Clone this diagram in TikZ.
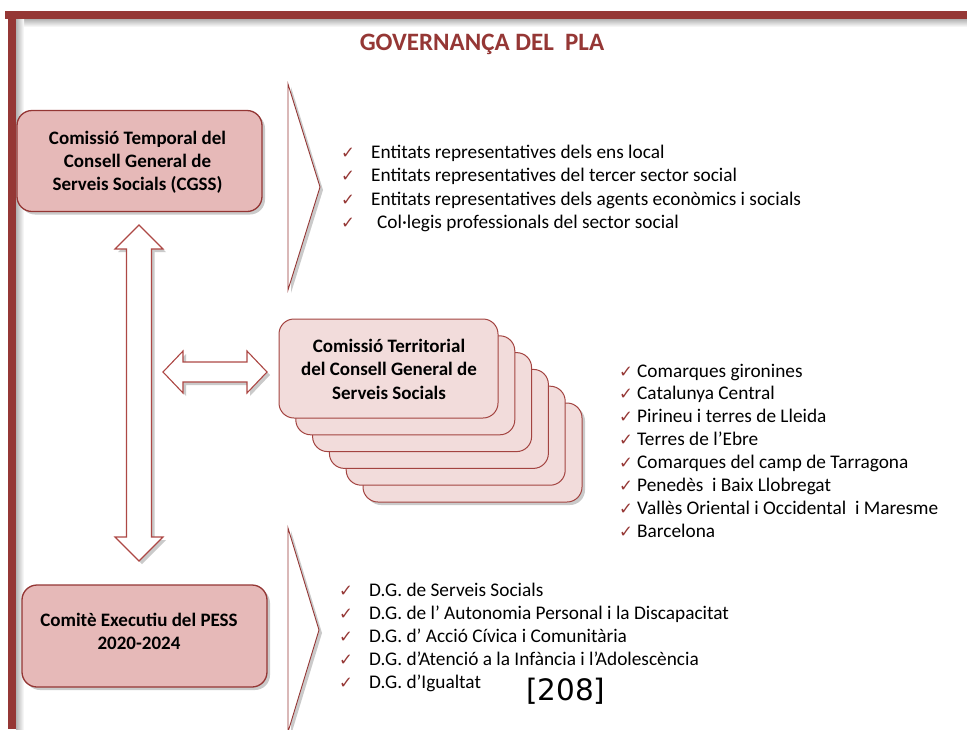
\documentclass[tikz,border=0pt]{standalone}
\usepackage{fontspec}
\setmainfont{Carlito}
\newfontfamily\djv{DejaVu Sans}
\usetikzlibrary{shadows}
\definecolor{framec}{HTML}{953735}
\definecolor{boxA}{HTML}{E6B9B8}
\definecolor{boxB}{HTML}{F2DCDB}
\definecolor{edgeA}{HTML}{943634}
\definecolor{edgeB}{HTML}{C0504D}
\tikzset{
  shad/.style={drop shadow={shadow xshift=3pt,shadow yshift=-3pt,opacity=0.35,fill=black!60}},
  boxa/.style={draw=edgeA,line width=1.3pt,fill=boxA,rounded corners=15pt,shad,inner sep=0pt},
  boxb/.style={draw=edgeB!85!black,line width=1pt,fill=boxB,rounded corners=15pt,inner sep=0pt},
  boxtext/.style={font=\bfseries\fontsize{19}{23}\selectfont,align=center,inner sep=0pt},
  chev/.style={draw=framec,line width=0.9pt,fill=white,shad},
  dblarrow/.style={draw=edgeB!90!black,line width=1.1pt,fill=white,shad},
  item/.style={font=\fontsize{19.3}{23}\selectfont,anchor=base west,inner sep=0pt},
  chk/.style={font=\djv\fontsize{16.5}{18}\selectfont,text=framec,anchor=base west,inner sep=0pt},
}
\begin{document}
\begin{tikzpicture}[x=1pt,y=-1pt]
\useasboundingbox (0,0) rectangle (967,729);
% frame
\shade[top color=black!30,bottom color=white] (16,19) rectangle (967,27);
\shade[left color=black!30,right color=white] (16,19) rectangle (24,729);
\fill[framec] (5,11) rectangle (967,19);
\fill[framec] (8,11) rectangle (16,729);
% title
\node[font=\bfseries\fontsize{25}{30}\selectfont,text=framec] (title) at (482,44) {GOVERNANÇA DEL\ \ PLA};
% chevrons
\coordinate (ch1a) at (288,84); \coordinate (ch1b) at (320,187); \coordinate (ch1c) at (288,290);
\draw[chev] (ch1a) -- (ch1b) -- (ch1c) -- cycle;
\coordinate (ch2a) at (288,528); \coordinate (ch2b) at (319,630); \coordinate (ch2c) at (288,732);
\draw[chev] (ch2a) -- (ch2b) -- (ch2c) -- cycle;
% box 1
\node[boxa,minimum width=245pt,minimum height=101pt] (cgss) at (139.5,161) {};
\node[boxtext] (cgsst) at (137.5,162) {Comissió Temporal del\\Consell General de\\Serveis Socials (CGSS)};
% box 3
\node[boxa,minimum width=245pt,minimum height=102pt] (pess) at (144.5,636) {};
\node[boxtext] (pesst) at (139,631) {Comitè Executiu del PESS\\2020-2024};
% vertical double arrow
\coordinate (vt) at (139,225); \coordinate (vb) at (139,561);
\draw[dblarrow] (vt) -- ++(24,24) -- ++(-11.5,0) -- ++(0,288) -- ++(11.5,0) -- (vb)
  -- ++(-24,-24) -- ++(11.5,0) -- ++(0,-288) -- ++(-11.5,0) -- cycle;
% horizontal double arrow
\coordinate (hl) at (163,372); \coordinate (hr) at (267,372);
\draw[dblarrow] (hl) -- ++(20,-21) -- ++(0,11) -- ++(64,0) -- ++(0,-11) -- (hr)
  -- ++(-20,21) -- ++(0,-11) -- ++(-64,0) -- ++(0,11) -- cycle;
% stacked boxes
\node[boxb,shad,minimum width=219pt,minimum height=99pt] (st5) at (472.5,452.5) {};
\foreach \k in {4,3,2,1,0}{
  \node[boxb,minimum width=219pt,minimum height=99pt] (st\k) at ({388.5+16.8*\k},{368.5+16.8*\k}) {};
}
\node[boxtext,font=\bfseries\fontsize{19}{23.5}\selectfont] (stt) at (389,369) {Comissió Territorial\\del Consell General de\\Serveis Socials};
% list 1
\node[chk] (k11) at (341,158) {✓}; \node[item] (e11) at (371,158) {Entitats representatives dels ens local};
\node[chk] (k12) at (341,181.5) {✓}; \node[item] (e12) at (371,181.5) {Entitats representatives del tercer sector social};
\node[chk] (k13) at (341,205) {✓}; \node[item] (e13) at (371,205) {Entitats representatives dels agents econòmics i socials};
\node[chk] (k14) at (341,228) {✓}; \node[item] (e14) at (377,228) {Col·legis professionals del sector social};
% list 2
\foreach \t [count=\i] in {Comarques gironines,Catalunya Central,Pirineu i terres de Lleida,Terres de l’Ebre,Comarques del camp de Tarragona,Penedès\ \ i Baix Llobregat,Vallès Oriental i Occidental\ \ i Maresme,Barcelona}{
  \node[chk] (k2\i) at (619,{377+22.86*(\i-1)}) {✓};
  \node[item] (e2\i) at (637,{377+22.86*(\i-1)}) {\t};
}
% list 3
\node[chk] (k31) at (339,596) {✓}; \node[item] (e31) at (369,596) {D.G. de Serveis Socials};
\node[chk] (k32) at (339,619.5) {✓}; \node[item] (e32) at (369,619.5) {D.G. de l’ Autonomia Personal i la Discapacitat};
\node[chk] (k33) at (339,642.5) {✓}; \node[item] (e33) at (369,642.5) {D.G. d’ Acció Cívica i Comunitària};
\node[chk] (k34) at (339,665.5) {✓}; \node[item] (e34) at (369,665.5) {D.G. d’Atenció a la Infància i l’Adolescència};
\node[chk] (k35) at (339,688.5) {✓}; \node[item] (e35) at (369,688.5) {D.G. d’Igualtat};
% page ref
\node[font=\djv\fontsize{29.5}{33}\selectfont,anchor=base west,inner sep=0pt] (ref) at (526,700) {[208]};
\end{tikzpicture}
\end{document}
